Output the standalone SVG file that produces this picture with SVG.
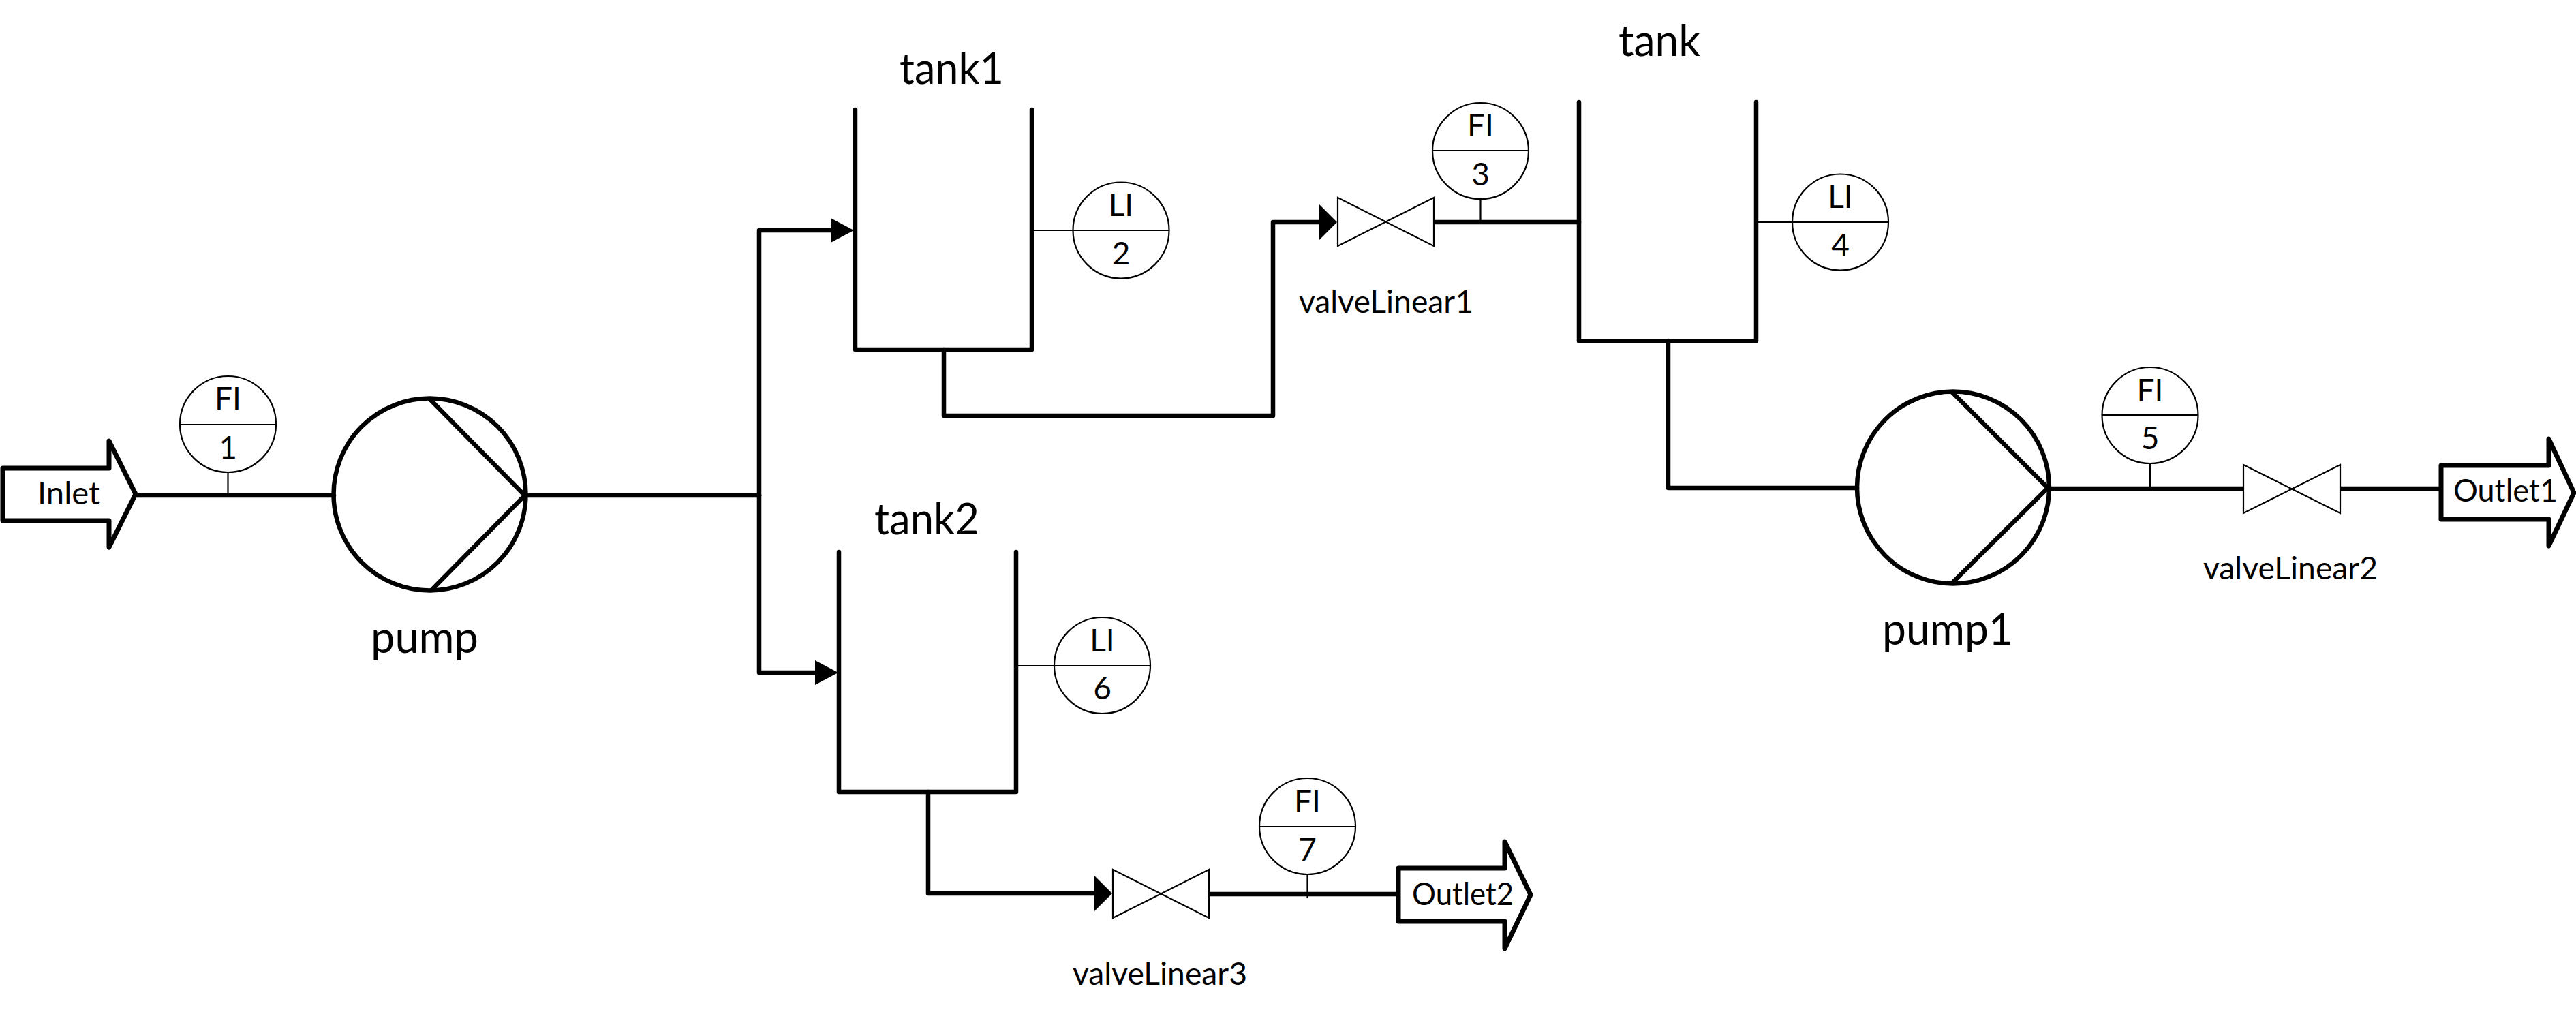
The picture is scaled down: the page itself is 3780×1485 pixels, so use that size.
<svg xmlns="http://www.w3.org/2000/svg" width="3780" height="1485" viewBox="0 0 3780 1485">
<style>
text{font-family:"Lato","Carlito","Liberation Sans",sans-serif;fill:#000}
.big{font-size:63px}
.mid{font-size:46px}
.c{text-anchor:middle}
.pipe{fill:none;stroke:#000;stroke-width:6.500;stroke-linecap:round;stroke-linejoin:round}
.thin{fill:none;stroke:#000;stroke-width:2.200}
.port{fill:#fff;stroke:#000;stroke-width:7;stroke-linejoin:round}
.inst{fill:#fff;stroke:#000;stroke-width:2.200}
.valve{fill:#fff;stroke:#000;stroke-width:2.200;stroke-linejoin:miter}
</style>
<defs>
<marker id="headA" markerUnits="userSpaceOnUse" markerWidth="36" markerHeight="38" refX="0" refY="18" orient="auto"><polygon points="0,0 34,18 0,36" fill="#000"/></marker>
<marker id="headB" markerUnits="userSpaceOnUse" markerWidth="28" markerHeight="54" refX="0" refY="26" orient="auto"><polygon points="0,0 26,26 0,52" fill="#000"/></marker>
</defs>
<rect width="3780" height="1485" fill="#fff"/>
<g id="connectors">
<path class="pipe" d="M199 727H490"/>
<path class="pipe" d="M772 727H1114"/>
<path class="pipe" d="M1114 727V338H1219" marker-end="url(#headA)"/>
<path class="pipe" d="M1114 727V987H1196" marker-end="url(#headA)"/>
<path class="pipe" d="M1385 513V610H1868V326H1936" marker-end="url(#headB)"/>
<path class="pipe" d="M2104 326H2317"/>
<path class="pipe" d="M2448 500V716H2725"/>
<path class="pipe" d="M3006 717H3292"/>
<path class="pipe" d="M3434 717H3582"/>
<path class="pipe" d="M1362 1162V1311H1606" marker-end="url(#headB)"/>
<path class="pipe" d="M1775 1312H2052"/>
<path class="thin" d="M334.500 693V727M2172.500 292V326M3155 681V717M1918.500 1283V1318M1517 338H1574M2580 326H2630M1489 977H1547"/>
</g>
<g id="Inlet"><polygon class="port" points="4,687 160,687 160,647 199,725 160,803 160,764 4,764"/><text class="mid" x="55" y="740" textLength="92" lengthAdjust="spacingAndGlyphs">Inlet</text></g>
<g id="Outlet1"><polygon class="port" points="3582,683 3740,683 3740,644 3777,723 3740,801 3740,762 3582,762"/><text class="mid" x="3600" y="736" textLength="153" lengthAdjust="spacingAndGlyphs">Outlet1</text></g>
<g id="Outlet2"><polygon class="port" points="2052,1274 2208,1274 2208,1235 2246,1313 2208,1392 2208,1352 2052,1352"/><text class="mid" x="2072" y="1328" textLength="149" lengthAdjust="spacingAndGlyphs">Outlet2</text></g>
<g id="pump"><circle class="pipe" cx="630.500" cy="725.500" r="141"/><path class="pipe" d="M631 586L770 727L633 866"/><text class="big" x="544" y="958" textLength="158" lengthAdjust="spacingAndGlyphs">pump</text></g>
<g id="pump1"><circle class="pipe" cx="2866" cy="715.500" r="141"/><path class="pipe" d="M2865 576L3005 716L2865 855"/><text class="big" x="2762" y="946" textLength="192" lengthAdjust="spacingAndGlyphs">pump1</text></g>
<g id="tank1"><path class="pipe" d="M1255 161V513H1514V161"/><text class="big" x="1320" y="123" textLength="153" lengthAdjust="spacingAndGlyphs">tank1</text></g>
<g id="tank"><path class="pipe" d="M2317 150V500.500H2577V150"/><text class="big" x="2375" y="82" textLength="120" lengthAdjust="spacingAndGlyphs">tank</text></g>
<g id="tank2"><path class="pipe" d="M1231 810V1162H1491V810"/><text class="big" x="1283" y="784" textLength="154" lengthAdjust="spacingAndGlyphs">tank2</text></g>
<g id="valveLinear1"><polygon class="valve" points="1963,290 2104,361 2104,290 1963,361"/><text class="mid" x="1906" y="459" textLength="256" lengthAdjust="spacingAndGlyphs">valveLinear1</text></g>
<g id="valveLinear2"><polygon class="valve" points="3292,682 3434,753 3434,682 3292,753"/><text class="mid" x="3233" y="850" textLength="256" lengthAdjust="spacingAndGlyphs">valveLinear2</text></g>
<g id="valveLinear3"><polygon class="valve" points="1633,1276 1774,1347 1774,1276 1633,1347"/><text class="mid" x="1574" y="1445" textLength="256" lengthAdjust="spacingAndGlyphs">valveLinear3</text></g>
<g id="FI1"><circle class="inst" cx="334.500" cy="622.500" r="70.500"/><path class="thin" d="M264 623H405"/><text class="mid c" x="334.500" y="601">FI</text><text class="mid c" x="334.500" y="673">1</text></g>
<g id="LI2"><circle class="inst" cx="1645" cy="338" r="70.500"/><path class="thin" d="M1574 338H1715"/><text class="mid c" x="1645" y="317">LI</text><text class="mid c" x="1645" y="388">2</text></g>
<g id="FI3"><circle class="inst" cx="2172.500" cy="221.500" r="70.500"/><path class="thin" d="M2102 221H2243"/><text class="mid c" x="2172.500" y="200">FI</text><text class="mid c" x="2172.500" y="272">3</text></g>
<g id="LI4"><circle class="inst" cx="2700.500" cy="326" r="70.500"/><path class="thin" d="M2630 326H2771"/><text class="mid c" x="2700.500" y="305">LI</text><text class="mid c" x="2700.500" y="376">4</text></g>
<g id="FI5"><circle class="inst" cx="3155" cy="609.500" r="70.500"/><path class="thin" d="M3084 609H3226"/><text class="mid c" x="3155" y="589">FI</text><text class="mid c" x="3155" y="659">5</text></g>
<g id="LI6"><circle class="inst" cx="1617.500" cy="976.500" r="70.500"/><path class="thin" d="M1547 977H1688"/><text class="mid c" x="1617.500" y="956">LI</text><text class="mid c" x="1617.500" y="1026">6</text></g>
<g id="FI7"><circle class="inst" cx="1918.500" cy="1212.500" r="70.500"/><path class="thin" d="M1848 1213H1989"/><text class="mid c" x="1918.500" y="1192">FI</text><text class="mid c" x="1918.500" y="1263">7</text></g>
</svg>
